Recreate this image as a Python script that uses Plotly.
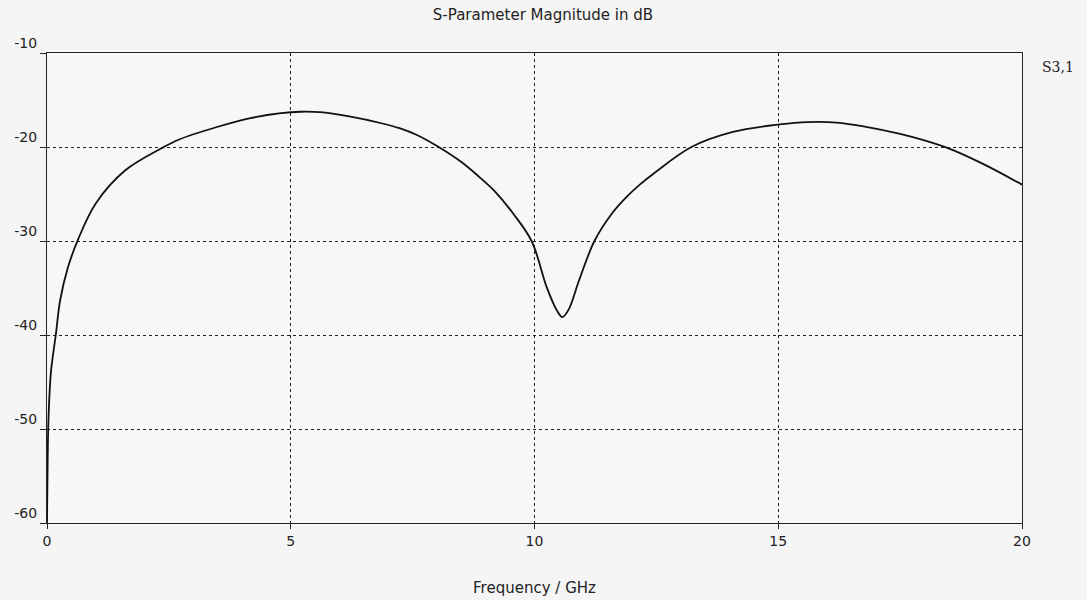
import plotly.graph_objects as go

series_name = "S3,1"
freq_ghz = [0, 0.01, 0.03, 0.08, 0.18, 0.27, 0.43, 0.64, 1.0, 1.6, 2.36, 2.71, 3.47, 4.15,
            4.8, 5.2, 5.6, 6.2, 6.88, 7.23, 7.6, 8.0, 8.5, 8.87, 9.2, 9.55, 9.94, 10.25,
            10.45, 10.57, 10.7, 10.92, 11.23, 11.6, 11.89, 12.16, 12.5, 13.22, 14.07,
            15.03, 15.6, 16.2, 16.8, 17.5, 18.0, 18.52, 19.2, 20]
s31_db = [-60, -55, -49, -44, -40, -36.3, -32.8, -29.8, -26.0, -22.5, -20.1, -19.2, -17.9, -16.95,
          -16.4, -16.25, -16.3, -16.75, -17.5, -18.0, -18.75, -19.9, -21.6, -23.2, -24.8, -27.0,
          -30, -34.9, -37.3, -38.1, -37.3, -34.1, -30, -27.0, -25.3, -24.0, -22.6, -20, -18.4,
          -17.6, -17.35, -17.4, -17.85, -18.6, -19.3, -20.2, -21.8, -24.0]

x_ticks = [0, 5, 10, 15, 20]
y_ticks = [-60, -50, -40, -30, -20, -10]
y_tick_labels = ["-60", "-50", "-40", "-30", "-20", "-10"]

fig = go.Figure()
fig.add_trace(go.Scatter(
    x=freq_ghz, y=s31_db, mode="lines", name=series_name,
    line=dict(color="#111111", width=1.8, shape="spline", smoothing=1.0),
    showlegend=False,
))

font_main = "DejaVu Sans"
fig.update_layout(
    width=1087, height=600,
    margin=dict(l=47, r=65, t=53, b=77),
    paper_bgcolor="#f5f5f5", plot_bgcolor="#f7f7f7",
    title=dict(text="S-Parameter Magnitude in dB", x=0.4995, xanchor="center",
               y=0.975, yanchor="middle", font=dict(family=font_main, size=15, color="#222")),
    font=dict(family=font_main, size=14, color="#222"),
)
fig.update_xaxes(
    range=[0, 20], tickvals=x_ticks, ticks="outside", ticklen=5, tickcolor="#222",
    showline=True, linecolor="#222", linewidth=1.3, mirror=True,
    showgrid=True, gridcolor="#222", griddash="dot", gridwidth=1,
    zeroline=False, automargin=False,
    title=dict(text="Frequency / GHz", font=dict(family=font_main, size=15), standoff=34),
)
fig.update_yaxes(
    range=[-60, -10], tickvals=y_ticks, ticktext=y_tick_labels,
    ticks="outside", ticklen=6, tickcolor="#222",
    ticklabelposition="outside top", ticklabelstandoff=6,
    showline=True, linecolor="#222", linewidth=1.3, mirror=True,
    showgrid=True, gridcolor="#222", griddash="dot", gridwidth=1,
    zeroline=False, automargin=False,
)
fig.add_annotation(text=series_name, xref="paper", yref="paper", x=1.0, y=0.97,
                   xshift=18, xanchor="left", yanchor="middle", showarrow=False,
                   font=dict(family="DejaVu Serif", size=14, color="#222"))

fig.write_html("out.html")
